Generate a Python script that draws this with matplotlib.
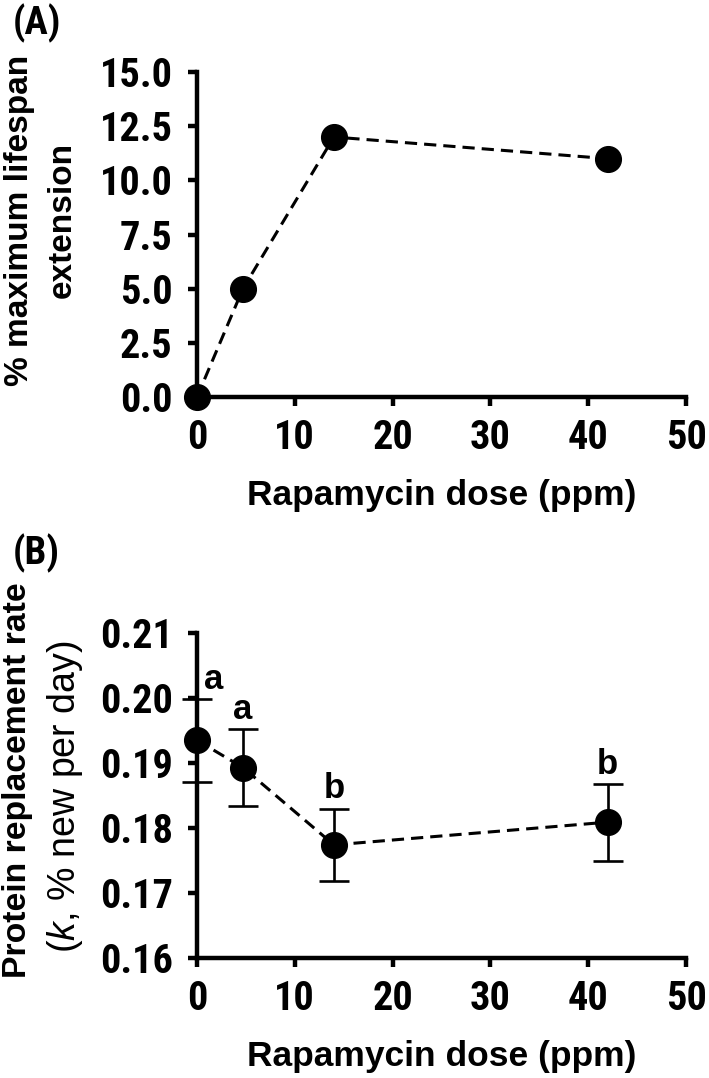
import matplotlib
matplotlib.use("Agg")
import matplotlib.pyplot as plt

# ---- data ----
dose = [0, 4.7, 14, 42]
lifespan_ext = [0.0, 5.0, 12.0, 11.0]
k_rate = [0.1935, 0.1893, 0.1774, 0.1809]
k_sem = [0.0064, 0.0059, 0.0056, 0.0059]
sig_letters = ["a", "a", "b", "b"]
xticks = [0, 10, 20, 30, 40, 50]
yticks_a = [0.0, 2.5, 5.0, 7.5, 10.0, 12.5, 15.0]
yticks_b = [0.16, 0.17, 0.18, 0.19, 0.20, 0.21]

narrow = ["Liberation Sans Narrow", "Arial Narrow", "Roboto Condensed",
          "Liberation Sans", "DejaVu Sans"]
wide = ["Liberation Sans", "DejaVu Sans"]

plt.rcParams["mathtext.fontset"] = "custom"
plt.rcParams["mathtext.it"] = "Liberation Sans:italic"
plt.rcParams["mathtext.rm"] = "Liberation Sans"

W, H = 709, 1078
fig = plt.figure(figsize=(W / 100, H / 100), dpi=100)

def ax_rect(left, right, top, bottom):
    return [left / W, 1 - bottom / H, (right - left) / W, (bottom - top) / H]

ax_a = fig.add_axes(ax_rect(197, 686, 72, 397))
ax_b = fig.add_axes(ax_rect(197, 686, 633, 958))

TICK_FS = 29
LAB_FS = 25.5
LW_AX = 3.2
LW_LINE = 2.2
MS = 18.5

def style(ax):
    for s in ["top", "right"]:
        ax.spines[s].set_visible(False)
    for s in ["left", "bottom"]:
        ax.spines[s].set_linewidth(LW_AX)
        ax.spines[s].set_capstyle("projecting")
    ax.tick_params(direction="out", length=6.5, width=LW_AX)
    ax.tick_params(axis="x", pad=9)
    ax.tick_params(axis="y", pad=11)
    ax.set_xlim(0, 50)
    ax.set_xticks(xticks)
    ax.set_xticklabels([str(t) for t in xticks], fontfamily=narrow,
                       fontweight="bold", fontsize=TICK_FS)
    ax.set_xlabel("Rapamycin dose (ppm)", fontfamily=wide, fontweight="bold",
                  fontsize=LAB_FS, labelpad=16)

# Panel A
style(ax_a)
ax_a.set_ylim(0, 15)
ax_a.set_yticks(yticks_a)
ax_a.set_yticklabels([f"{t:.1f}" for t in yticks_a], fontfamily=narrow,
                     fontweight="bold", fontsize=TICK_FS)
ln, = ax_a.plot(dose, lifespan_ext, color="black", lw=LW_LINE, marker="o",
                markersize=MS, clip_on=False, zorder=5)
ln.set_dashes([4, 2.3])

# Panel B
style(ax_b)
ax_b.set_ylim(0.16, 0.21)
ax_b.set_yticks(yticks_b)
ax_b.set_yticklabels([f"{t:.2f}" for t in yticks_b], fontfamily=narrow,
                     fontweight="bold", fontsize=TICK_FS)
ax_b.errorbar(dose, k_rate, yerr=k_sem, fmt="none", ecolor="black",
              elinewidth=1.9, capsize=10.5, capthick=1.9, clip_on=False, zorder=4)
lnb, = ax_b.plot(dose, k_rate, color="black", lw=LW_LINE, marker="o",
                 markersize=MS, clip_on=False, zorder=5)
lnb.set_dashes([4, 2.3])
for i, (x, y, e, lab) in enumerate(zip(dose, k_rate, k_sem, sig_letters)):
    dx = 17 if i == 0 else 0
    ax_b.annotate(lab, (x, y + e), xytext=(dx, 3), textcoords="offset pixels",
                  ha="center", va="bottom", fontfamily=wide, fontweight="bold",
                  fontsize=25)

# Panel letters
fig.text(13 / W, 1 - 23 / H, "(A)", fontfamily=narrow, fontweight="bold",
         fontsize=28, ha="left", va="center")
fig.text(13 / W, 1 - 553 / H, "(B)", fontfamily=narrow, fontweight="bold",
         fontsize=28, ha="left", va="center")

# Y labels
fig.text(20 / W, 1 - 220 / H, "% maximum lifespan", rotation=90, fontfamily=wide,
         fontweight="bold", fontsize=24, ha="center", va="center")
fig.text(62 / W, 1 - 220 / H, "extension", rotation=90, fontfamily=wide,
         fontweight="bold", fontsize=24, ha="center", va="center")
fig.text(18 / W, 1 - 780 / H, "Protein replacement rate", rotation=90, fontfamily=wide,
         fontweight="bold", fontsize=24.3, ha="center", va="center")
fig.text(65 / W, 1 - 797 / H, "($\\mathit{k}$, % new per day)", rotation=90,
         fontfamily=wide, fontsize=27, ha="center", va="center")

fig.savefig("out.png", dpi=100, facecolor="white")
